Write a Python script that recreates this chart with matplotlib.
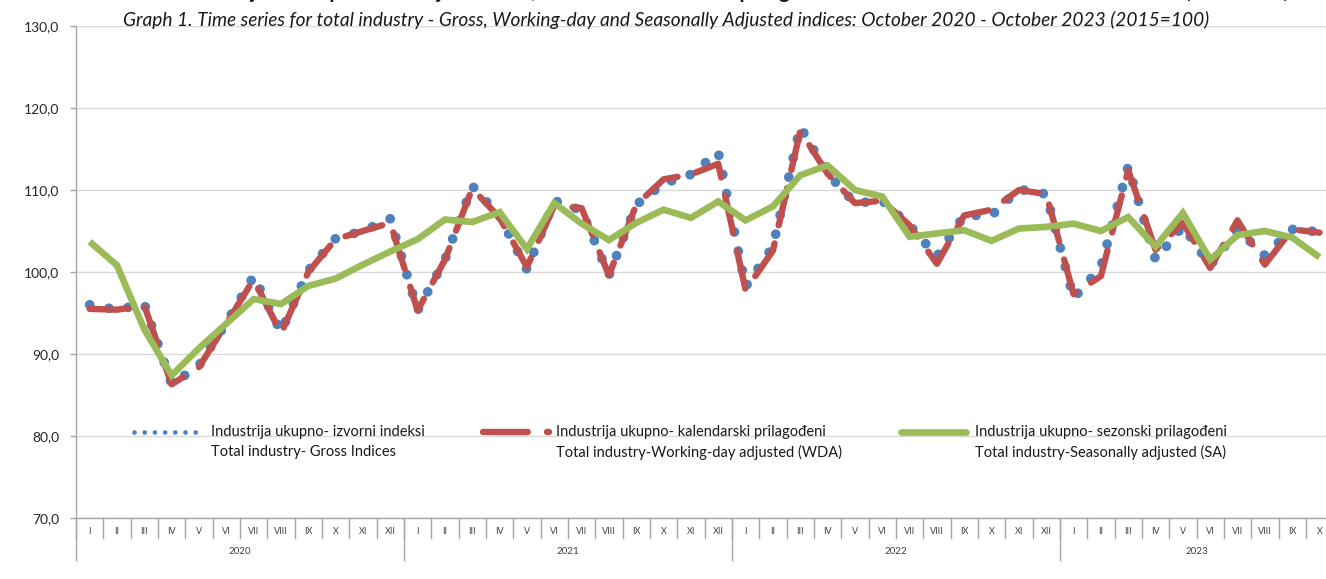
import matplotlib
matplotlib.use("Agg")
import matplotlib.pyplot as plt
import matplotlib.transforms as mtransforms
import numpy as np

plt.rcParams['font.family'] = ['Lato', 'DejaVu Sans']

# ---------------- data ----------------
roman = ["I", "II", "III", "IV", "V", "VI", "VII", "VIII", "IX", "X", "XI", "XII"]
years = ["2020", "2021", "2022", "2023"]
year_lengths = [12, 12, 12, 10]
month_labels = [roman[m] for n in year_lengths for m in range(n)]

gross = [96.0, 95.4, 96.1, 86.3, 88.6, 93.8, 99.5, 92.7, 100.2, 104.1, 105.0, 106.5,
         95.3, 101.5, 110.5, 106.8, 100.3, 108.7, 107.5, 99.6, 108.2, 110.8, 111.9, 114.6,
         98.2, 103.1, 117.7, 112.0, 108.4, 108.7, 105.7, 101.9, 106.9, 106.9, 110.1, 109.5,
         96.8, 100.6, 112.9, 101.5, 105.6, 100.8, 105.2, 102.0, 105.2, 104.9]
wda = [95.5, 95.4, 95.9, 86.3, 88.4, 93.7, 99.1, 92.5, 100.0, 104.0, 105.0, 106.0,
       95.3, 101.5, 110.2, 106.6, 100.6, 108.1, 107.8, 99.6, 108.2, 111.3, 111.9, 113.2,
       97.8, 102.6, 117.2, 112.0, 108.4, 108.7, 105.7, 101.0, 106.9, 107.6, 110.0, 109.5,
       97.3, 99.5, 112.4, 102.7, 106.0, 100.5, 106.3, 100.9, 105.2, 104.8]
sa = [103.7, 100.8, 93.0, 87.4, 90.7, 93.7, 96.7, 96.1, 98.3, 99.2, 100.9, 102.5,
      104.0, 106.4, 106.1, 107.3, 102.8, 108.4, 105.9, 103.9, 106.0, 107.6, 106.6, 108.6,
      106.3, 108.0, 111.8, 113.0, 110.0, 109.2, 104.3, 104.7, 105.1, 103.8, 105.3, 105.5,
      105.9, 105.0, 106.7, 103.1, 107.2, 101.5, 104.5, 105.0, 104.2, 101.8]
yticks = [70, 80, 90, 100, 110, 120, 130]

labels_sr = ["Industrija ukupno- izvorni indeksi",
             "Industrija ukupno- kalendarski prilagođeni",
             "Industrija ukupno- sezonski prilagođeni"]
labels_en = ["Total industry- Gross Indices",
             "Total industry-Working-day adjusted (WDA)",
             "Total industry-Seasonally adjusted (SA)"]

title_top = ("Grafik 1. Vremenske serije za ukupnu industriju - izvorni, kalendarski i sezonski "
             "prilagođeni indeksi: oktobar 2020 - oktobar 2023 (2015=100)")
title = ("Graph 1. Time series for total industry - Gross, Working-day and Seasonally "
         "Adjusted indices: October 2020 - October 2023 (2015=100)")

BLUE = "#4f81bd"
RED = "#c0504d"
GREEN = "#9bbb59"
AXC = "#a6a6a6"

W, H = 1326, 579
fig = plt.figure(figsize=(W / 100, H / 100), dpi=100)
n = len(month_labels)
ax = fig.add_axes([76 / W, (H - 518) / H, 27.33 * n / W, 492 / H])
x = np.arange(n)

ax.plot(x, gross, color=BLUE, lw=7.0, ls=(0, (0.01, 2.0)), dash_capstyle='round',
        solid_capstyle='round', zorder=3)
ax.plot(x, wda, color=RED, lw=4.6, ls=(0, (6.0, 2.9)), dash_capstyle='round',
        zorder=4)
ax.plot(x, sa, color=GREEN, lw=4.8, solid_joinstyle='miter', solid_capstyle='butt', zorder=5)

ax.set_xlim(-0.5, n - 0.5)
ax.set_ylim(70, 130)
ax.set_yticks(yticks)
ax.set_yticklabels([f"{v:.1f}".replace('.', ',') for v in yticks], fontsize=10, color='#262626')
ax.tick_params(axis='y', length=4, width=1, color=AXC, pad=8)
ax.yaxis.grid(True, color='#d9d9d9', lw=1)
ax.set_axisbelow(True)
for s in ['top', 'right']:
    ax.spines[s].set_visible(False)
for s in ['left', 'bottom']:
    ax.spines[s].set_color(AXC)
    ax.spines[s].set_linewidth(1)

# x axis: month boundaries, month labels, year labels
ax.set_xticks([])
trans = mtransforms.blended_transform_factory(ax.transData, ax.transAxes)
px = 1 / 492
for b in np.arange(-0.5, n, 1.0):
    ax.plot([b, b], [0, -20 * px], transform=trans, color=AXC, lw=1, clip_on=False)
for i, lab in enumerate(month_labels):
    ax.text(i, -14 * px, lab, transform=trans, ha='center', va='center', fontsize=6.5,
            color='#404040')
start = -0.5
for yr, ln in zip(years, year_lengths):
    ax.plot([start, start], [0, -42 * px], transform=trans, color=AXC, lw=1, clip_on=False)
    ax.text(start + ln / 2, -34 * px, yr, transform=trans, ha='center', va='center',
            fontsize=7, color='#404040')
    start += ln

# legend (manual, two-line labels)
def fx(p):
    return p / W

def fy(p):
    return 1 - p / H

ly1, ly2 = 432, 452
fig.add_artist(plt.Line2D([fx(134), fx(205)], [fy(ly1), fy(ly1)], color=BLUE, lw=3.4,
                          ls=(0, (0.01, 2.15)), dash_capstyle='round'))
fig.add_artist(plt.Line2D([fx(483), fx(549)], [fy(ly1), fy(ly1)], color=RED, lw=4.6,
                          ls=(0, (7.0, 3.0)), dash_capstyle='round'))
fig.add_artist(plt.Line2D([fx(901), fx(966)], [fy(ly1), fy(ly1)], color=GREEN, lw=4.8,
                          solid_capstyle='round'))
for xt, l1, l2 in zip([211, 556, 975], labels_sr, labels_en):
    fig.text(fx(xt), fy(ly1), l1, ha='left', va='center', fontsize=10.5, color='#1a1a1a')
    fig.text(fx(xt), fy(ly2), l2, ha='left', va='center', fontsize=10.5, color='#1a1a1a')

# partially cut-off top heading (only its lower edge is visible in the reference)
fig.text(fx(660), fy(-1.5), title_top, ha='center', va='baseline', fontsize=14.5,
         weight='bold', color='#1a1a1a')
fig.text(fx(666), fy(20), title, ha='center', va='center', fontsize=13.8, style='italic',
         color='#1a1a1a')

fig.savefig("out.png", dpi=100)
